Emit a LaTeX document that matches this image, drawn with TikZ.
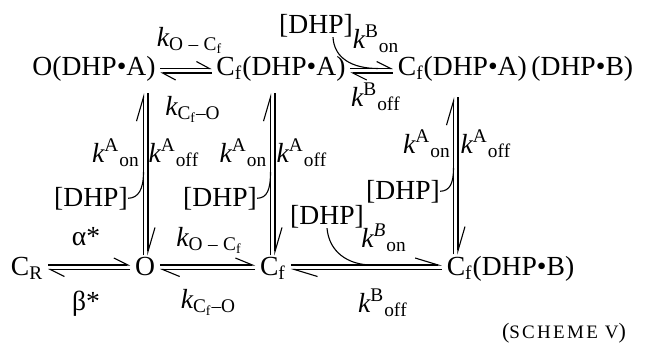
\documentclass[tikz,border=0pt]{standalone}
\usepackage{amsmath}
\usepackage{fontspec}
\setmainfont{Liberation Serif}
\usetikzlibrary{arrows.meta}

\begin{document}
\begin{tikzpicture}
	[x=0.5pt, y=-0.5pt, every node/.style={anchor=base, inner sep=0pt, font=\fontsize{13.8}{16}\selectfont}, species/.style={inner xsep=2.25pt, inner ysep=0.5pt}, harp/.style={line width=0.55pt, -{Straight Barb[left, length=#1, width=7pt]}}, hook/.style={line width=0.55pt}]
	\useasboundingbox (0,0) rectangle (647,349);
	\node (oa) [species] at (94,75) {O(DHP•A)};\node (cfa) [species] at (281,75) {C$_\mathrm{f}$(DHP•A)};\node (cfab) [species] at (515.5,75) {C$_\mathrm{f}$(DHP•A)\,(DHP•B)};
	\node (cr) [species] at (27,275) {C$_\mathrm{R}$};\node (o) [species] at (145,275) {O};\node (cf) [species] at (273,275) {C$_\mathrm{f}$};\node (cfb) [species] at (510.5,275) {C$_\mathrm{f}$(DHP•B)};
	\node (kocft) at (190,46) {$\mathit{k}_{\mathrm{O}\;\text{–}\;\mathrm{C}_\mathrm{f}}$};\node (kcfot) at (193,115) {$\mathit{k}_{\mathrm{C}_\mathrm{f}\text{–}\mathrm{O}}$};
	\node (dhpt) at (316,33) {[DHP]};\node (kbont) at (376,48) {$\mathit{k}^{\mathrm{B}}{}_{\mathrm{on}}$};\node (kbofft) at (376,106) {$\mathit{k}^{\mathrm{B}}{}_{\mathrm{off}}$};
	\node (kaonl) at (116,162) {$\mathit{k}^{\mathrm{A}}{}_{\mathrm{on}}$};\node (kaoffl) at (174,162) {$\mathit{k}^{\mathrm{A}}{}_{\mathrm{off}}$};
	\node (kaonm) at (243.5,162) {$\mathit{k}^{\mathrm{A}}{}_{\mathrm{on}}$};\node (kaoffm) at (302,162) {$\mathit{k}^{\mathrm{A}}{}_{\mathrm{off}}$};
	\node (kaonr) at (427,153) {$\mathit{k}^{\mathrm{A}}{}_{\mathrm{on}}$};\node (kaoffr) at (486,153) {$\mathit{k}^{\mathrm{A}}{}_{\mathrm{off}}$};
	\node (dhpl) at (91,206) {[DHP]};\node (dhpm) at (220,206) {[DHP]};\node (dhpr) at (403,199) {[DHP]};\node (dhpb) at (327,224) {[DHP]};
	\node (alpha) at (86,245) {α*};\node (beta) at (86,310) {β*};
	\node (kocfb) at (209.5,246) {$\mathit{k}_{\mathrm{O}\;\text{–}\;\mathrm{C}_\mathrm{f}}$};\node (kcfob) at (208.5,308) {$\mathit{k}_{\mathrm{C}_\mathrm{f}\text{–}\mathrm{O}}$};
	\node (kbonb) at (384,247) {$\mathit{k}^{\mathit{B}}{}_{\mathrm{on}}$};\node (kboffb) at (383,312) {$\mathit{k}^{\mathrm{B}}{}_{\mathrm{off}}$};
	\node (scheme) at (564,338) {\fontsize{11}{13}\selectfont({\fontsize{9.5}{11}\selectfont\addfontfeature{LetterSpace=12}SCHEME V})};
	\coordinate (jt) at (378,68.5);\coordinate (jb) at (372,265);\coordinate (jl) at (143.5,172);\coordinate (jm) at (270.5,172);\coordinate (jr) at (453.5,168);
	
	\draw[harp=6.5pt] ([yshift=3.25pt]oa.base east) -- ([yshift=3.25pt]cfa.base west);
	\draw[harp=6.5pt] ([yshift=1pt]cfa.base west) -- ([yshift=1pt]oa.base east);
	\draw[harp=7pt] ([yshift=3.25pt]cfa.base east) -- ([yshift=3.25pt]cfab.base west);
	\draw[harp=7pt] ([yshift=1pt]cfab.base west) -- ([yshift=1pt]cfa.base east);
	\draw[harp=7pt] ([yshift=5pt]cr.base east) -- ([yshift=5pt]o.base west);
	\draw[harp=7pt] ([yshift=2.75pt]o.base west) -- ([yshift=2.75pt]cr.base east);
	\draw[harp=8.5pt] ([yshift=5pt]o.base east) -- ([yshift=5pt]cf.base west);
	\draw[harp=8.5pt] ([yshift=2.75pt]cf.base west) -- ([yshift=2.75pt]o.base east);
	\draw[harp=11.5pt] ([yshift=5pt]cf.base east) -- ([yshift=5pt]cfb.base west);
	\draw[harp=11.5pt] ([yshift=2.75pt]cfb.base west) -- ([yshift=2.75pt]cf.base east);
	\draw[harp=12pt] ([xshift=-0.75pt]o.north) -- ([xshift=-0.75pt,yshift=-5.5pt]o.north |- oa.south);
	\draw[harp=12pt] ([xshift=1.5pt,yshift=-5.5pt]o.north |- oa.south) -- ([xshift=1.5pt]o.north);
	\draw[harp=12pt] ([xshift=-1.25pt]cf.north) -- ([xshift=-1.25pt,yshift=-5.5pt]cf.north |- cfa.south);
	\draw[harp=12pt] ([xshift=1pt,yshift=-5.5pt]cf.north |- cfa.south) -- ([xshift=1pt]cf.north);
	\draw[harp=12pt] ([xshift=-28.5pt]cfb.north) -- ([xshift=-28.5pt,yshift=-7.5pt]cfb.north |- cfab.south);
	\draw[harp=12pt] ([xshift=-26.25pt,yshift=-7.5pt]cfb.north |- cfab.south) -- ([xshift=-26.25pt]cfb.north);
	\draw[hook] ([xshift=8.5pt]dhpt.south) .. controls (334,58) and (352,68.5) .. (jt);
	\draw[hook] (dhpb.south) .. controls (329,252) and (348,265) .. (jb);
	\draw[hook] (dhpl.east) .. controls (138,198) and (143.5,190) .. (jl);
	\draw[hook] (dhpm.east) .. controls (267,198) and (270.5,190) .. (jm);
	\draw[hook] (dhpr.east) .. controls (450,191) and (453.5,183) .. (jr);
\end{tikzpicture}
\end{document}
